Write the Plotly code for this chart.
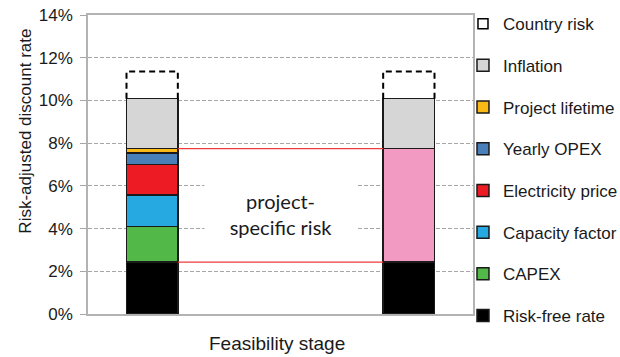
import plotly.graph_objects as go

# ---- data (percent) ----
stage_pos = [0, 1]                     # two stacked columns, both at "Feasibility stage"
risk_free = [2.43, 2.43]
capex = [1.67, None]
capacity_factor = [1.48, None]
electricity_price = [1.41, None]
yearly_opex = [0.55, None]
project_lifetime = [0.20, None]
project_specific = [None, 5.31]        # pink aggregate in second column
inflation = [2.34, 2.34]
country_risk = [1.28, 1.28]

y_ticks = [0, 2, 4, 6, 8, 10, 12, 14]
y_ticktext = ["0%", "2%", "4%", "6%", "8%", "10%", "12%", "14%"]

components = [
    ("Risk-free rate", risk_free, "#000000", True),
    ("CAPEX", capex, "#52b848", True),
    ("Capacity factor", capacity_factor, "#26a9e0", True),
    ("Electricity price", electricity_price, "#ed1c24", True),
    ("Yearly OPEX", yearly_opex, "#4a80ba", True),
    ("Project lifetime", project_lifetime, "#fbb917", True),
    ("project-specific risk", project_specific, "#f29ac1", False),
    ("Inflation", inflation, "#d6d6d6", True),
]

BAR_W = 0.2
FONT = "Liberation Sans, Arial, sans-serif"

fig = go.Figure()
for k, (name, vals, col, show) in enumerate(components):
    fig.add_trace(go.Bar(
        x=stage_pos, y=vals, name=name, width=BAR_W,
        marker=dict(color=col, line=dict(color="#1a1a1a", width=1.5)),
        showlegend=show, legendgroup=name, legendrank=100 - k, hoverinfo="skip",
    ))

# totals per column (top of inflation) -> base of dashed country-risk box
def col_sum(i, series):
    return sum(s[i] for s in series if s[i] is not None)

all_series = [c[1] for c in components]
ox, oy = [], []
for i, xpos in enumerate(stage_pos):
    base = col_sum(i, all_series)
    top = base + country_risk[i]
    ox += [xpos - BAR_W / 2, xpos - BAR_W / 2, xpos + BAR_W / 2, xpos + BAR_W / 2, None]
    oy += [base, top, top, base, None]
fig.add_trace(go.Scatter(
    x=ox, y=oy, mode="lines", line=dict(color="#000000", width=2, dash="6px,4px"),
    showlegend=False, legendgroup="Country risk", legendrank=1, hoverinfo="skip",
))
fig.add_trace(go.Scatter(
    x=[None], y=[None], mode="markers", name="Country risk", legendgroup="Country risk",
    legendrank=1,
    marker=dict(symbol="square-open", size=10, color="#000000", line=dict(width=1.5)),
))

# red connectors: project-specific band between columns
spec_series = [capex, capacity_factor, electricity_price, yearly_opex, project_lifetime, project_specific]
low0 = risk_free[0]
low1 = risk_free[1]
up0 = low0 + col_sum(0, spec_series)
up1 = low1 + col_sum(1, spec_series)
for ya, yb in [(up0, up1), (low0, low1)]:
    fig.add_trace(go.Scatter(
        x=[stage_pos[0] + BAR_W / 2, stage_pos[1] - BAR_W / 2], y=[ya, yb],
        mode="lines", line=dict(color="#ee3b3b", width=1.2),
        showlegend=False, hoverinfo="skip",
    ))

fig.add_annotation(
    x=0.5, y=4.68, xref="x", yref="y", text="project-<br>specific risk",
    showarrow=False, font=dict(family="Lato, sans-serif", size=20, color="#1a1a1a"),
    bgcolor="white", width=150, height=90,
)
# axis titles (placed as in the original, y title sits above plot centre)
fig.add_annotation(
    x=-0.161, y=0.61, xref="paper", yref="paper", text="Risk-adjusted discount rate",
    textangle=-90, showarrow=False, xanchor="center", yanchor="middle",
    font=dict(size=17, color="#1a1a1a"),
)
fig.add_annotation(
    x=0.491, y=-0.10, xref="paper", yref="paper", text="Feasibility stage",
    showarrow=False, xanchor="center", yanchor="middle",
    font=dict(size=19, color="#1a1a1a"),
)

fig.update_layout(
    width=620, height=357,
    margin=dict(l=88, r=147, t=15, b=43, autoexpand=False),
    barmode="stack",
    plot_bgcolor="white", paper_bgcolor="white",
    font=dict(family=FONT, size=17, color="#1a1a1a"),
    legend=dict(
        x=0.974, xanchor="left", y=1.0298, yanchor="top",
        traceorder="grouped", tracegroupgap=16.6, maxheight=400,
        itemwidth=30, font=dict(size=17), bgcolor="rgba(0,0,0,0)",
    ),
    xaxis=dict(
        range=[-0.25, 1.25], showticklabels=False, ticks="", showgrid=False, zeroline=False,
        showline=True, linecolor="#b3b3b3", linewidth=1.5, mirror=True,
    ),
    yaxis=dict(
        range=[0, 14], tickvals=y_ticks, ticktext=y_ticktext,
        showgrid=True, gridcolor="#a6a6a6", griddash="4px,2px", gridwidth=1, zeroline=False,
        showline=True, linecolor="#b3b3b3", linewidth=1.5, mirror=True,
        ticks="outside", ticklen=6, tickcolor="#a6a6a6", ticklabelstandoff=4,
    ),
)

# remove the browser's default 8px body margin so the figure sits at the page origin
fig.write_html(
    "out.html",
    config={"displayModeBar": False},
    post_script="document.body.style.margin='0';",
)
